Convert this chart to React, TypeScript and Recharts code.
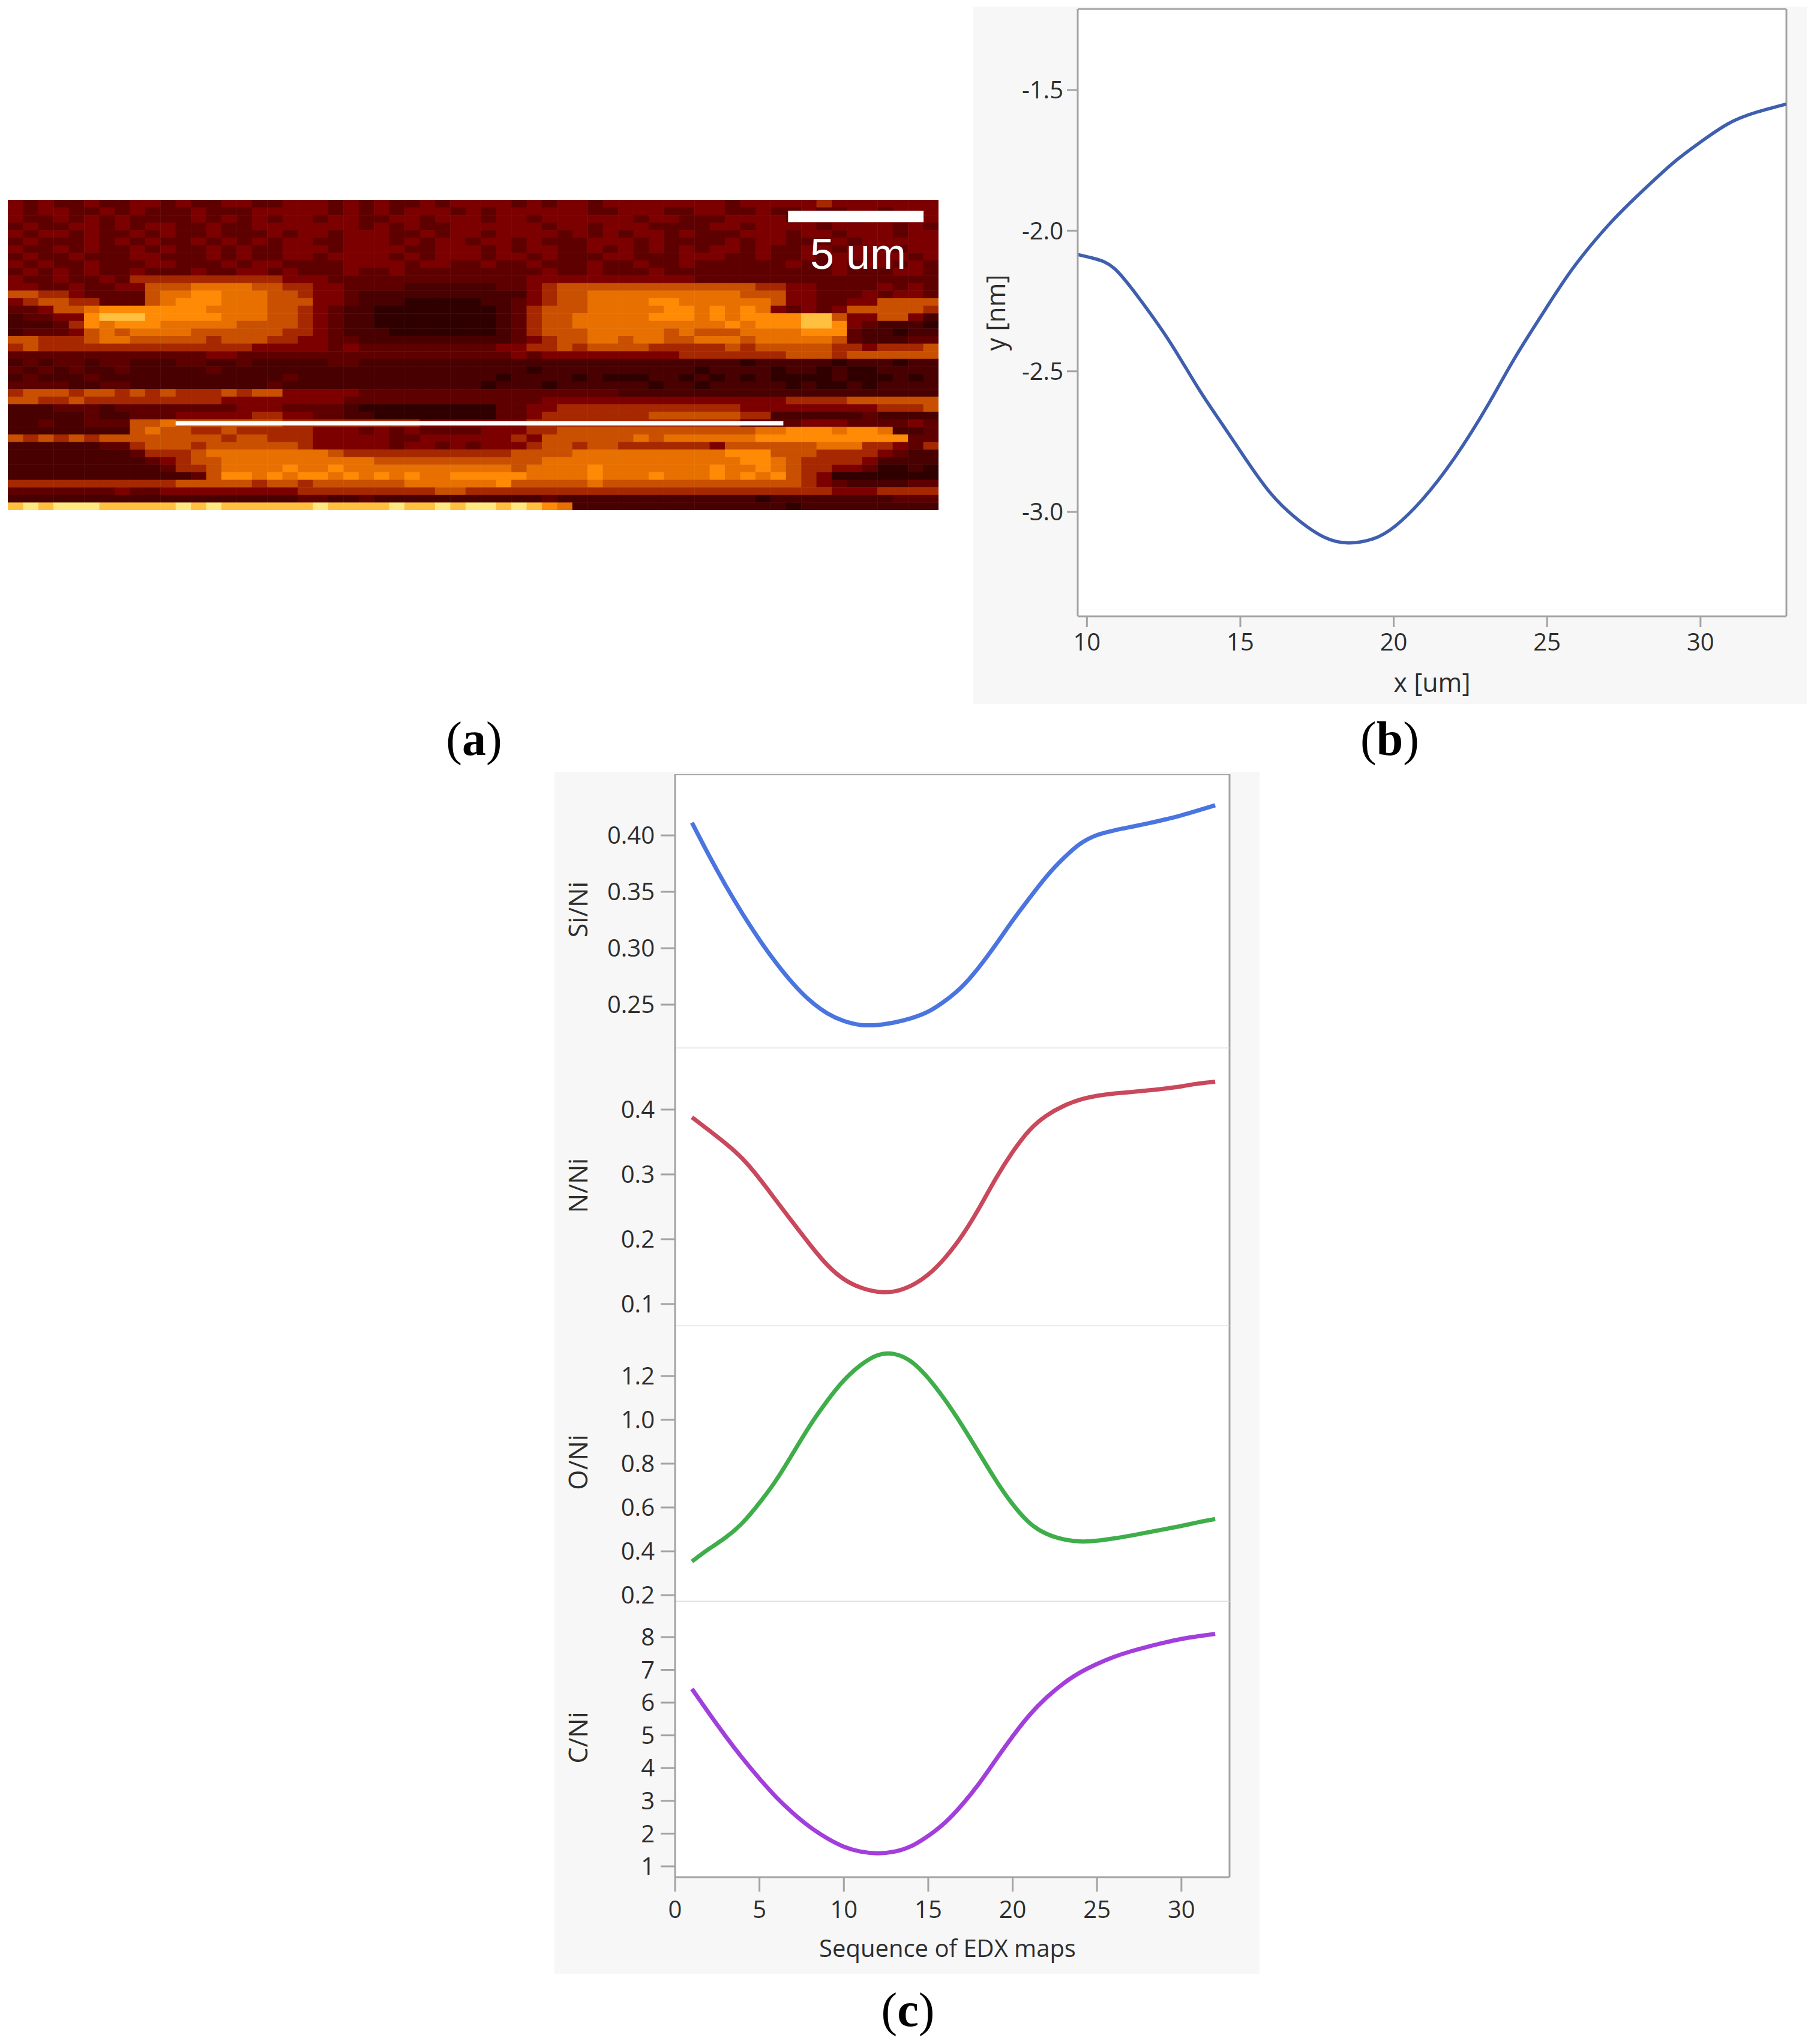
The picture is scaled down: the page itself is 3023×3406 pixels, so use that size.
import {
  CartesianGrid,
  Line,
  LineChart,
  ReferenceLine,
  Scatter,
  ScatterChart,
  XAxis,
  YAxis,
} from "recharts";

const FONT = '"Open Sans", "Noto Sans", sans-serif';
const TICK_COLOR = "#2e2e2e";
const FRAME = "#a3a3a3";
const SEPARATOR = "#dddddd";
const PANEL_BG = "#f7f7f7";

// (a) intensity levels, one string per row, coarse 61 x 41 grid
const HEAT_LEVELS = ["#1a0000", "#300000", "#480000", "#5e0000", "#7c0000", "#a62800", "#c85000", "#e87000", "#ff8a05", "#ffc040", "#ffe880"];
const HEAT_ROWS = [
  "4343343344 3433443344 4343433434 4443434434 4444444344 4445444444 4",
  "4344334343 3343334444 4343434443 4344444433 4443344334 3343344344 4",
  "4334343433 3343434344 3443344344 4344344444 4344333444 4344434444 4",
  "3433443434 4334334444 4443434334 4444434434 4433334434 4443444434 3",
  "4344343343 4334333434 4344433434 4344443434 3443433344 4344344434 4",
  "3433343434 3343434344 3344434344 3443433344 4343333434 4333434444 4",
  "4334343343 4334343344 4344443344 4343443343 4343434434 3344344434 4",
  "3433433344 3334343344 3444434344 4344343334 4333444334 3343444443 4",
  "4343343334 4333434433 3344443443 3433433343 3433433333 3433434434 3",
  "3434343343 3343344343 3343343333 3333343343 3343333333 3333433344 3",
  "4334334355 5555555544 4333333333 3333444444 4444433333 3333333333 3",
  "4433433446 6677776655 4433332222 2233456666 6666666665 5443333434 3",
  "6655433336 7788777665 4432222222 2222456677 7777777766 6443334344 3",
  "4566553336 7888777666 4432221111 1223456677 7788777777 6443344666 6",
  "3346678888 8887777665 4322111111 1123566677 7778878787 4343466666 5",
  "2334489998 8888777665 4322111111 1123566777 7788878788 8899644664 2",
  "2223587888 7777766665 4322111111 1123566777 7777777878 8899843222 1",
  "2333467677 7766666655 4322211111 1123566677 7776766677 7788832212 2",
  "6655567766 6665666554 4332222222 2223456677 6776677767 7777632223 3",
  "5655555555 5555554444 4343333333 3344556566 6655555656 6666554555 6",
  "3333333333 3334433333 3333333333 3334344444 4444555555 5666566666 6",
  "2323323322 2332232222 2332222222 2222222222 2222222212 2222122212 2",
  "3232322322 2223222222 2222222222 2222122222 2222212222 1221211222 2",
  "2322232222 2222222232 2222222222 2212222121 1122121212 1111211121 2",
  "3333223322 2222222322 2222222222 2122212222 2212212222 2121121222 2",
  "5666566565 6555656644 4443333333 3333333333 2222222222 2222222222 2",
  "6655655555 5555444444 4433333333 3333344444 4444444444 4555566666 6",
  "2223332333 3333344433 3321111111 1133445555 5555555544 4444444555 6",
  "2222232233 3444445544 3322111111 1133455555 5566666655 2222223222 2",
  "2232233366 7666666655 5555555444 4444555555 5555555533 3344433334 3",
  "2222222267 6655655555 4443434333 3444556666 6666666667 7888788722 3",
  "6565656666 6666566555 4444433444 4445466666 6767777778 8888888883 3",
  "2222223356 6656666665 4444434434 3444566566 5555554666 6667775543 5",
  "2222222235 5567777777 7655555555 5556666777 7777777888 6665555432 2",
  "2222222223 4566777777 7777666666 6666677777 7777777788 7655554222 2",
  "2222222222 3556777787 7877777777 7776777787 7777778778 7655443112 1",
  "2222222222 2236887878 8787878778 8888777787 7787778787 8654111111 1",
  "5555555555 5666665665 6666667777 7786666676 6666666666 6654322223 3",
  "3333333433 4444444445 5555555566 5555555555 5555555555 5555444555 5",
  "2222222222 2222222223 3223222222 2222232222 2222222221 2222222233 3",
  "9a9aaa9999 9a9a999999 a9999a99a9 aa9a987222 2222222222 2122222222 2",
];
const SCALE_BAR = [{ x: 51.14, y: 2.2 }, { x: 60.02, y: 2.2 }];
const SECTION_LINE = [{ x: 11, y: 29.54 }, { x: 50.83, y: 29.54 }];

// (b) profile
const PROFILE_X = [9.7, 10.27, 10.9, 11.7, 12.67, 13.6, 14.36, 15.07, 15.96, 16.85, 17.74, 18.54, 19.34, 20.05, 20.94, 22, 23.07, 23.96, 25.03, 25.9, 27, 28.05, 29.1, 30, 30.9, 31.8, 32.8];
const PROFILE_Y = [-2.085, -2.1, -2.135, -2.24, -2.39, -2.555, -2.68, -2.795, -2.93, -3.025, -3.09, -3.11, -3.095, -3.05, -2.955, -2.805, -2.62, -2.45, -2.265, -2.125, -1.98, -1.865, -1.76, -1.685, -1.62, -1.58, -1.55];
const PROFILE_X_TICKS = [10, 15, 20, 25, 30];
const PROFILE_Y_TICKS = [-3, -2.5, -2, -1.5];

// (c) EDX ratios
const MAPS = [1, 2, 3, 4, 5, 6, 7, 8, 9, 10, 11, 12, 13, 14, 15, 16, 17, 18, 19, 20, 21, 22, 23, 24, 25, 26, 27, 28, 29, 30, 31, 32];
const SI_NI = [0.4113, 0.3825, 0.3555, 0.3305, 0.3075, 0.2868, 0.2685, 0.2535, 0.2425, 0.2355, 0.232, 0.232, 0.2342, 0.238, 0.2438, 0.2534, 0.266, 0.2831, 0.3032, 0.3245, 0.3445, 0.3635, 0.3795, 0.3925, 0.4003, 0.4044, 0.4075, 0.4106, 0.414, 0.4178, 0.4222, 0.4267];
const N_NI = [0.3882, 0.3682, 0.3476, 0.324, 0.2935, 0.2592, 0.225, 0.1914, 0.1608, 0.1384, 0.1254, 0.1189, 0.1195, 0.1285, 0.1455, 0.1715, 0.2055, 0.2474, 0.2935, 0.3346, 0.3682, 0.3906, 0.4053, 0.4153, 0.4212, 0.4247, 0.4271, 0.4295, 0.4324, 0.4359, 0.4401, 0.443];
const O_NI = [0.3537, 0.4105, 0.4632, 0.5305, 0.6211, 0.7263, 0.85, 0.975, 1.085, 1.18, 1.25, 1.295, 1.3, 1.265, 1.19, 1.09, 0.975, 0.85, 0.725, 0.615, 0.53, 0.48, 0.455, 0.445, 0.4484, 0.4589, 0.4716, 0.4863, 0.5011, 0.5158, 0.5326, 0.5474];
const C_NI = [6.42, 5.68, 4.97, 4.3, 3.68, 3.11, 2.62, 2.2, 1.86, 1.6, 1.45, 1.4, 1.45, 1.62, 1.93, 2.34, 2.88, 3.52, 4.25, 4.97, 5.62, 6.15, 6.58, 6.92, 7.18, 7.395, 7.564, 7.705, 7.831, 7.944, 8.028, 8.098];
const MAP_TICKS = [0, 5, 10, 15, 20, 25, 30];
const MAP_X_MAX = 32.85;

const HEAT_W = 1551;
const HEAT_H = 517;
const heatCells = HEAT_ROWS.flatMap((row, r) =>
  row
    .replace(/ /g, "")
    .split("")
    .map((ch, c) => ({ x: c + 0.5, y: r + 0.5, level: parseInt(ch, 16) })),
);

const profileData = PROFILE_X.map((x, i) => ({ x, y: PROFILE_Y[i] }));

const tickStyle = { fill: TICK_COLOR, fontSize: 40, fontFamily: FONT };
const labelStyle = { fill: TICK_COLOR, fontSize: 43, fontFamily: FONT };

function HeatCell(props: any) {
  const w = HEAT_W / 61;
  const h = HEAT_H / 41;
  return (
    <rect
      x={props.cx - w / 2}
      y={props.cy - h / 2}
      width={w + 0.5}
      height={h + 0.5}
      fill={HEAT_LEVELS[props.payload.level]}
    />
  );
}

function HeatMap() {
  return (
    <div style={{ position: "absolute", left: 13, top: 333 }}>
      <ScatterChart width={HEAT_W} height={HEAT_H} margin={{ top: 0, right: 0, bottom: 0, left: 0 }}>
        <XAxis type="number" dataKey="x" domain={[0, 61]} hide />
        <YAxis type="number" dataKey="y" domain={[0, 41]} reversed hide />
        <Scatter data={heatCells} shape={HeatCell} isAnimationActive={false} />
        <Scatter data={SCALE_BAR} line={{ stroke: "#fff", strokeWidth: 19 }} shape={() => <g />} isAnimationActive={false} />
        <Scatter data={SECTION_LINE} line={{ stroke: "#fff", strokeWidth: 7 }} shape={() => <g />} isAnimationActive={false} />
      </ScatterChart>
      <div
        style={{
          position: "absolute",
          left: 1337,
          top: 50,
          color: "#fff",
          fontFamily: '"Liberation Sans", sans-serif',
          fontSize: 72,
          lineHeight: "80px",
          whiteSpace: "nowrap",
        }}
      >
        5 um
      </div>
    </div>
  );
}

function ProfileChart() {
  return (
    <div style={{ position: "absolute", left: 1622, top: 11, background: PANEL_BG }}>
      <LineChart width={1389} height={1162} data={profileData} margin={{ top: 4, right: 34, bottom: 0, left: 0 }}>
        <CartesianGrid horizontal={false} vertical={false} fill="#fff" />
        <XAxis
          type="number"
          dataKey="x"
          domain={[9.7, 32.8]}
          ticks={PROFILE_X_TICKS}
          interval={0}
          allowDataOverflow
          height={146}
          stroke={FRAME}
          strokeWidth={3}
          tickSize={18}
          tickMargin={11}
          tick={tickStyle}
          label={{ value: "x [um]", position: "insideBottom", offset: 20, style: labelStyle }}
        />
        <YAxis
          type="number"
          domain={[-3.371, -1.212]}
          ticks={PROFILE_Y_TICKS}
          interval={0}
          allowDataOverflow
          width={174}
          stroke={FRAME}
          strokeWidth={3}
          tickSize={18}
          tickMargin={6}
          tick={tickStyle}
          tickFormatter={(v: number) => v.toFixed(1)}
          label={{ value: "y [nm]", angle: -90, position: "insideLeft", offset: 38, style: { ...labelStyle, textAnchor: "middle" } }}
        />
        <ReferenceLine x={32.8} stroke={FRAME} strokeWidth={3} />
        <ReferenceLine y={-1.212} stroke={FRAME} strokeWidth={3} />
        <Line dataKey="y" type="natural" stroke="#3f5fae" strokeWidth={5.5} dot={false} isAnimationActive={false} />
      </LineChart>
    </div>
  );
}

type RatioProps = {
  label: string;
  values: number[];
  color: string;
  domain: [number, number];
  ticks: number[];
  digits: number;
  top: number;
  height: number;
  first?: boolean;
  last?: boolean;
};

// extra room under the upper panels so a tick label at the bottom edge is not cut
const PANEL_SPILL = 24;

function RatioPanel({ label, values, color, domain, ticks, digits, top, height, first, last }: RatioProps) {
  const data = MAPS.map((m, i) => ({ m, v: values[i] }));
  return (
    <div style={{ position: "absolute", left: 924, top }}>
      <LineChart
        width={1175}
        height={last ? height + 161 : height + PANEL_SPILL}
        data={data}
        margin={{ top: 0, right: 50, bottom: last ? 0 : PANEL_SPILL, left: 0 }}
      >
        <CartesianGrid horizontal={false} vertical={false} fill="#fff" />
        <XAxis
          type="number"
          dataKey="m"
          domain={[0, MAP_X_MAX]}
          ticks={MAP_TICKS}
          interval={0}
          allowDataOverflow
          hide={!last}
          height={last ? 161 : 0}
          stroke={FRAME}
          strokeWidth={3}
          tickSize={24}
          tickMargin={16}
          tick={tickStyle}
          label={last ? { value: "Sequence of EDX maps", position: "insideBottom", offset: 28, dx: -8, style: { ...labelStyle, fontSize: 40 } } : undefined}
        />
        <YAxis
          type="number"
          domain={domain}
          ticks={ticks}
          interval={0}
          allowDataOverflow
          width={201}
          stroke={FRAME}
          strokeWidth={3}
          tickSize={24}
          tickMargin={10}
          tick={tickStyle}
          tickFormatter={(v: number) => v.toFixed(digits)}
          label={{ value: label, angle: -90, position: "insideLeft", offset: 40, dy: -3, style: { ...labelStyle, textAnchor: "middle" } }}
        />
        <ReferenceLine x={MAP_X_MAX} stroke={FRAME} strokeWidth={3} />
        {first && <ReferenceLine y={domain[1]} stroke={FRAME} strokeWidth={3} />}
        {!last && <ReferenceLine y={domain[0]} stroke={SEPARATOR} strokeWidth={3} />}
        <Line dataKey="v" type="natural" stroke={color} strokeWidth={7} dot={false} isAnimationActive={false} />
      </LineChart>
    </div>
  );
}

function Caption({ letter, center, top }: { letter: string; center: number; top: number }) {
  return (
    <div
      style={{
        position: "absolute",
        left: center - 100,
        top,
        width: 200,
        textAlign: "center",
        fontFamily: '"Liberation Serif", serif',
        fontSize: 80,
        lineHeight: "90px",
        color: "#000",
      }}
    >
      (<b>{letter}</b>)
    </div>
  );
}

export default function App() {
  return (
    <div style={{ position: "absolute", left: 0, top: 0, width: 3023, height: 3406, background: "#fff", overflow: "hidden" }}>
      <HeatMap />
      <ProfileChart />
      <div style={{ position: "absolute", left: 924, top: 1286, width: 1175, height: 2003, background: PANEL_BG }} />
      <RatioPanel label="Si/Ni" values={SI_NI} color="#4a74e0" domain={[0.2112, 0.4543]} ticks={[0.25, 0.3, 0.35, 0.4]} digits={2} top={1290} height={457} first />
      <RatioPanel label="N/Ni" values={N_NI} color="#c9485c" domain={[0.0657, 0.4944]} ticks={[0.1, 0.2, 0.3, 0.4]} digits={1} top={1747} height={463} />
      <RatioPanel label="O/Ni" values={O_NI} color="#3fae4a" domain={[0.17, 1.427]} ticks={[0.2, 0.4, 0.6, 0.8, 1, 1.2]} digits={1} top={2210} height={459} />
      <RatioPanel label="C/Ni" values={C_NI} color="#a23fdc" domain={[0.67, 9.08]} ticks={[1, 2, 3, 4, 5, 6, 7, 8]} digits={0} top={2669} height={459} last />
      <Caption letter="a" center={790} top={1186} />
      <Caption letter="b" center={2316} top={1186} />
      <Caption letter="c" center={1513} top={3304} />
    </div>
  );
}
